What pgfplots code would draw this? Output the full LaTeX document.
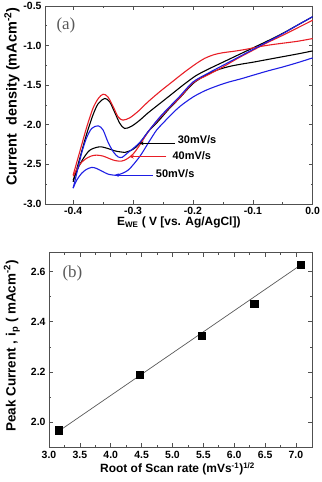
\documentclass[border=0pt]{standalone}
\usepackage{pgfplots}
\pgfplotsset{compat=1.18}
\usepackage{fontspec}
\setmainfont{Liberation Sans}
\newfontfamily\panelfont{Liberation Serif}
\usetikzlibrary{arrows.meta}

\definecolor{cvred}{RGB}{232,30,38}
\definecolor{cvblue}{RGB}{30,30,228}
\definecolor{framegray}{RGB}{80,80,80}

\pgfplotsset{
  panel/.style={
    scale only axis,
    axis line style={framegray, line width=0.8pt},
    tick style={framegray, line width=0.6pt},
    tick align=inside,
    major tick length=4bp,
    minor tick length=2bp,
    minor tick num=1,
    ticklabel style={font=\fontsize{10.5}{11}\selectfont\bfseries},
    /pgf/number format/assume math mode=true,
    /pgf/number format/fixed,
    /pgf/number format/fixed zerofill,
    /pgf/number format/precision=1,
    xlabel style={font=\fontsize{12}{13}\selectfont\bfseries},
  },
  cv/.style={smooth, line width=1.1pt},
}
\newcommand\ratelabel{\fontsize{11}{12}\selectfont\bfseries}

\begin{document}
\begin{tikzpicture}
\useasboundingbox (0bp,0bp) rectangle (322bp,482bp);

% ---------------- (a) cyclic voltammograms ----------------
\begin{axis}[panel,
  at={(45bp,278bp)}, anchor=south west,
  width=267.7bp, height=198bp,
  xmin=-0.447, xmax=0, ymin=-3, ymax=-0.5,
  xtick={-0.4,-0.3,-0.2,-0.1,0},
  ytick={-3,-2.5,-2,-1.5,-1,-0.5},
  xlabel={E\textsubscript{WE} ( V [vs. Ag/AgCl])},
  ylabel={Current\ \ density (mAcm\textsuperscript{-2})},
  xlabel style={at={([yshift=-22bp]axis description cs:0.5,0)}, anchor=base},
  ylabel style={at={([xshift=-28.5bp]axis description cs:0,0.542)}, anchor=base,
                font=\fontsize{14.5}{15}\selectfont\bfseries},
  clip=false,
]
% 30 mV/s
\addplot[cv, black] coordinates {
 (-0.400,-2.72) (-0.389,-2.425) (-0.378,-2.13) (-0.367,-1.878) (-0.358,-1.731)
 (-0.347,-1.668) (-0.339,-1.71) (-0.331,-1.836) (-0.322,-1.983) (-0.314,-2.046)
 (-0.303,-2.02) (-0.290,-1.95) (-0.275,-1.85) (-0.255,-1.73) (-0.235,-1.61)
 (-0.215,-1.49) (-0.195,-1.38) (-0.175,-1.30) (-0.150,-1.21) (-0.125,-1.12)
 (-0.100,-1.03) (-0.075,-0.94) (-0.050,-0.845) (-0.025,-0.74) (0,-0.635)};
\addplot[cv, black] coordinates {
 (-0.400,-2.70) (-0.392,-2.551) (-0.383,-2.425) (-0.372,-2.32) (-0.356,-2.278)
 (-0.342,-2.299) (-0.331,-2.328) (-0.322,-2.341) (-0.314,-2.349) (-0.300,-2.31)
 (-0.289,-2.235) (-0.275,-2.088) (-0.264,-2.004) (-0.255,-1.93) (-0.240,-1.80)
 (-0.222,-1.66) (-0.200,-1.48) (-0.180,-1.38) (-0.160,-1.31) (-0.140,-1.265)
 (-0.120,-1.235) (-0.100,-1.21) (-0.075,-1.175) (-0.050,-1.14) (-0.025,-1.105)
 (0,-1.067)};
% 40 mV/s
\addplot[cv, cvred] coordinates {
 (-0.400,-2.635) (-0.389,-2.341) (-0.378,-2.046) (-0.367,-1.794) (-0.358,-1.668)
 (-0.350,-1.614) (-0.342,-1.647) (-0.333,-1.773) (-0.325,-1.899) (-0.317,-1.941)
 (-0.305,-1.91) (-0.290,-1.82) (-0.275,-1.71) (-0.255,-1.58) (-0.235,-1.46)
 (-0.215,-1.34) (-0.195,-1.23) (-0.180,-1.16) (-0.165,-1.115) (-0.150,-1.09)
 (-0.130,-1.07) (-0.110,-1.045) (-0.090,-1.015) (-0.070,-0.99) (-0.050,-0.97)
 (-0.025,-0.945) (0,-0.911)};
\addplot[cv, cvred] coordinates {
 (-0.400,-2.65) (-0.390,-2.51) (-0.380,-2.435) (-0.370,-2.395) (-0.361,-2.383)
 (-0.350,-2.395) (-0.340,-2.425) (-0.330,-2.452) (-0.319,-2.458) (-0.310,-2.43)
 (-0.300,-2.37) (-0.290,-2.27) (-0.280,-2.15) (-0.270,-2.04) (-0.255,-1.91)
 (-0.240,-1.79) (-0.220,-1.64) (-0.200,-1.47) (-0.175,-1.37) (-0.150,-1.27)
 (-0.125,-1.16) (-0.100,-1.06) (-0.075,-0.96) (-0.050,-0.87) (-0.025,-0.775)
 (0,-0.68)};
% 50 mV/s
\addplot[cv, cvblue] coordinates {
 (-0.400,-2.80) (-0.394,-2.614) (-0.386,-2.362) (-0.378,-2.173) (-0.369,-2.046)
 (-0.358,-2.013) (-0.350,-2.067) (-0.342,-2.215) (-0.333,-2.341) (-0.325,-2.405)
 (-0.318,-2.41) (-0.310,-2.36) (-0.300,-2.30) (-0.289,-2.225) (-0.280,-2.14)
 (-0.270,-2.04) (-0.255,-1.90) (-0.240,-1.78) (-0.222,-1.64) (-0.200,-1.46)
 (-0.175,-1.35) (-0.150,-1.25) (-0.125,-1.15) (-0.100,-1.05) (-0.075,-0.95)
 (-0.050,-0.85) (-0.025,-0.74) (0,-0.635)};
\addplot[cv, cvblue] coordinates {
 (-0.400,-2.80) (-0.394,-2.698) (-0.386,-2.614) (-0.378,-2.564) (-0.369,-2.538)
 (-0.361,-2.551) (-0.350,-2.593) (-0.342,-2.622) (-0.333,-2.635) (-0.325,-2.632)
 (-0.308,-2.571) (-0.289,-2.403) (-0.275,-2.235) (-0.261,-2.07) (-0.250,-1.98)
 (-0.240,-1.90) (-0.222,-1.77) (-0.200,-1.65) (-0.180,-1.57) (-0.160,-1.51)
 (-0.140,-1.46) (-0.120,-1.42) (-0.100,-1.375) (-0.075,-1.32) (-0.050,-1.27)
 (-0.025,-1.215) (0,-1.155)};

% scan-rate labels
\draw[black, line width=0.6pt, -{Stealth[length=4bp,width=3.5bp]}]
  (axis cs:-0.2305,-2.235) -- (axis cs:-0.289,-2.235);
\node[anchor=west, inner sep=0pt, font=\ratelabel]
  at (axis cs:-0.2255,-2.185) {30mV/s};
\draw[cvred, line width=0.6pt, -{Stealth[length=4bp,width=3.5bp]}]
  (axis cs:-0.2443,-2.404) -- (axis cs:-0.3055,-2.404);
\node[anchor=west, inner sep=0pt, font=\ratelabel]
  at (axis cs:-0.2343,-2.395) {40mV/s};
\draw[cvblue, line width=0.6pt, -{Stealth[length=4bp,width=3.5bp]}]
  (axis cs:-0.2667,-2.635) -- (axis cs:-0.3305,-2.635);
\node[anchor=west, inner sep=0pt, font=\ratelabel]
  at (axis cs:-0.262,-2.613) {50mV/s};

\node[text=black!65, font=\panelfont\fontsize{17}{18}\selectfont]
  at (axis cs:-0.412,-0.743) {(a)};
\end{axis}

% ---------------- (b) peak current vs. root of scan rate ----------------
\begin{axis}[panel,
  at={(49bp,34.7bp)}, anchor=south west,
  width=263bp, height=194.6bp,
  xmin=3, xmax=7.26, ymin=1.9, ymax=2.675,
  xtick={3,3.5,4,4.5,5,5.5,6,6.5,7},
  ytick={2.0,2.2,2.4,2.6},
  xlabel={Root of Scan rate (mVs\textsuperscript{-1})\textsuperscript{1/2}},
  ylabel={Peak Current , i\textsubscript{p} ( mAcm\textsuperscript{-2})},
  xlabel style={at={([xshift=-3bp,yshift=-25.7bp]axis description cs:0.5,0)}, anchor=base},
  ylabel style={at={([xshift=-33.3bp]axis description cs:0,0.521)}, anchor=base,
                font=\fontsize{13.5}{14}\selectfont\bfseries},
  clip=false,
]
% linear fit
\addplot[black!65, line width=0.7pt] coordinates {(3.162,1.965) (7.071,2.625)};
\addplot[only marks, mark=square*, mark size=3.6bp, black] coordinates {
 (3.162,1.968) (4.472,2.190) (5.477,2.346) (6.325,2.472) (7.071,2.628)};
\node[text=black!65, font=\panelfont\fontsize{17}{18}\selectfont]
  at (axis cs:3.38,2.591) {(b)};
\end{axis}
\end{tikzpicture}
\end{document}
